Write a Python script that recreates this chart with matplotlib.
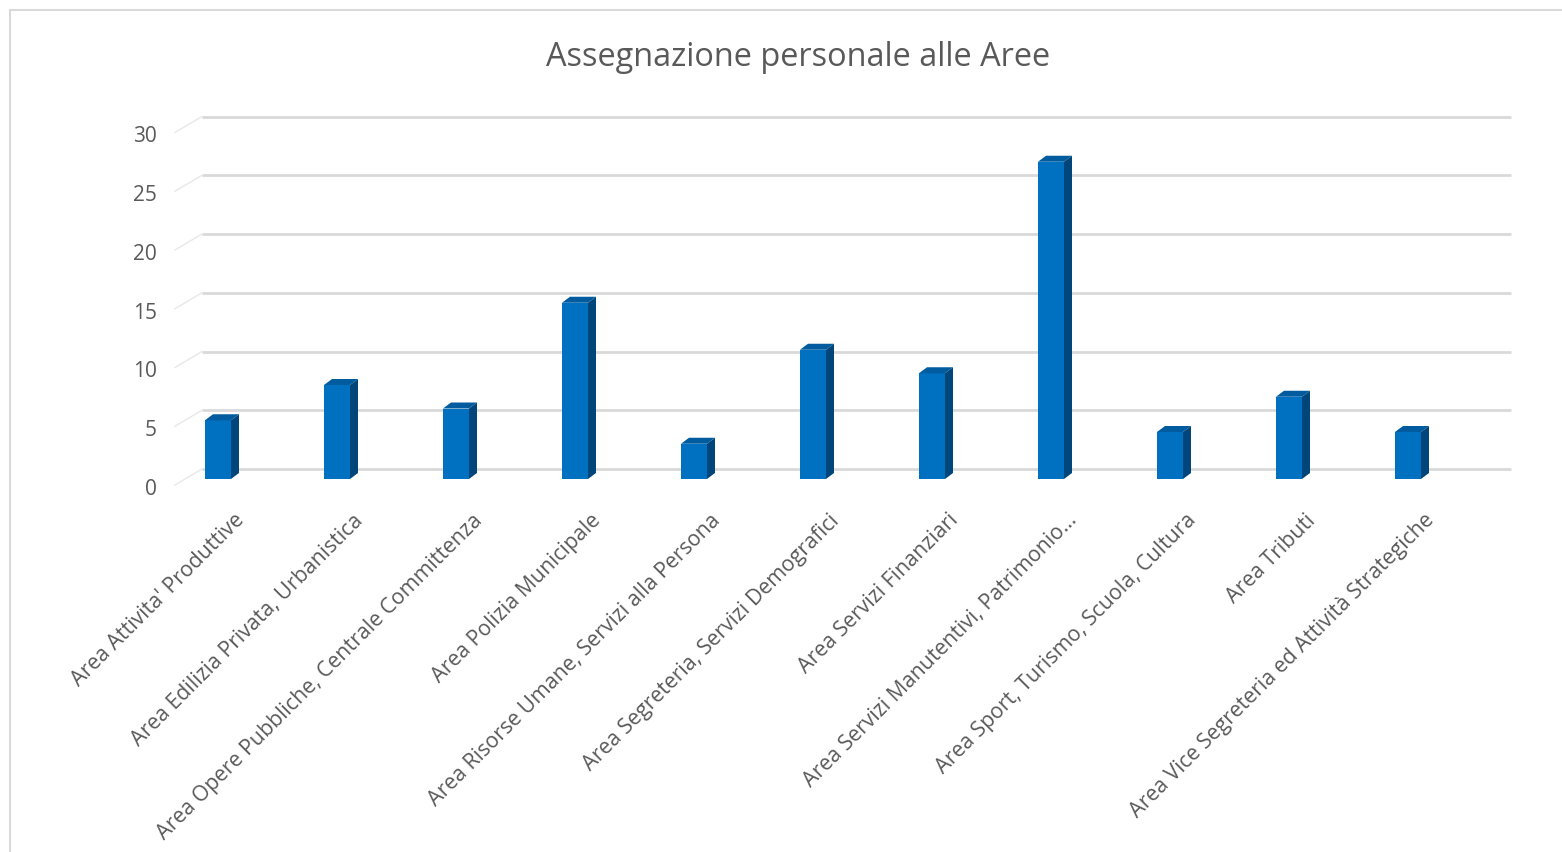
import numpy as np
import matplotlib
matplotlib.use("Agg")
import matplotlib.pyplot as plt
from matplotlib.patches import Polygon, Rectangle
from matplotlib.transforms import ScaledTranslation

plt.rcParams['font.family'] = ['Open Sans', 'DejaVu Sans']

# data
aree = [
    "Area Attivita' Produttive",
    "Area Edilizia Privata, Urbanistica",
    "Area Opere Pubbliche, Centrale Committenza",
    "Area Polizia Municipale",
    "Area Risorse Umane, Servizi alla Persona",
    "Area Segreteria, Servizi Demografici",
    "Area Servizi Finanziari",
    "Area Servizi Manutentivi, Patrimonio...",
    "Area Sport, Turismo, Scuola, Cultura",
    "Area Tributi",
    "Area Vice Segreteria ed Attività Strategiche",
]
personale = [5, 8, 6, 15, 3, 11, 9, 27, 4, 7, 4]
yticks = [0, 5, 10, 15, 20, 25, 30]

W, H = 1562, 853
fig = plt.figure(figsize=(W / 100, H / 100), dpi=100)

# chart border (cut off at right/bottom like the source)
fig.patches.append(Rectangle((10 / W, -0.2), 1.5, 1 - 11 / H + 0.2,
                             transform=fig.transFigure, fill=False,
                             edgecolor='#D9D9D9', lw=1.5))

fig.text(798 / W, 1 - 57 / H, "Assegnazione personale alle Aree",
         ha='center', va='center', fontsize=23.4, color='#595959')

# axes: x -0.5..10.5 -> 158.5..1467.5 px, y 0 -> 480 px, 11.75 px per unit
ppu = 11.75
ytop = 31.5
ax = fig.add_axes([158.5 / W, (H - 480) / H, 1309 / W, ytop * ppu / H])
ax.set_xlim(-0.5, 10.5)
ax.set_ylim(0, ytop)
for s in ax.spines.values():
    s.set_visible(False)

# back wall gridlines (offset up/right for the 3d look)
gdx = 43.5 / 119
gdy = 10 / ppu
for v in yticks:
    ax.plot([-0.5 + gdx, 10.5 + gdx], [v + gdy, v + gdy], color='#D9D9D9',
            lw=2, clip_on=False, zorder=1, solid_capstyle='butt')
    ax.plot([-0.5 + gdx - 27 / 119, -0.5 + gdx], [v + gdy - 16 / ppu, v + gdy],
            color='#E8E8E8', lw=1, clip_on=False, zorder=1)

x = np.arange(len(aree))
bw = 26 / 119
ddx = 8 / 119
ddy = 6 / ppu
ax.bar(x, personale, width=bw, color='#0070C0', zorder=3)
for xi, v in zip(x, personale):
    l, r = xi - bw / 2, xi + bw / 2
    top = Polygon([(l, v), (r, v), (r + ddx, v + ddy), (l + ddx, v + ddy)],
                  closed=True, facecolor='#005C9E', edgecolor='none', zorder=3,
                  clip_on=False)
    side = Polygon([(r, 0), (r + ddx, ddy), (r + ddx, v + ddy), (r, v)],
                   closed=True, facecolor='#00467A', edgecolor='none', zorder=3,
                   clip_on=False)
    ax.add_patch(top)
    ax.add_patch(side)

ax.set_yticks(yticks)
ax.set_yticklabels([str(t) for t in yticks], fontsize=15, color='#595959')
ax.tick_params(axis='y', length=0, pad=1)
for lab in ax.get_yticklabels():
    lab.set_transform(lab.get_transform() + ScaledTranslation(0, -0.07, fig.dpi_scale_trans))

ax.set_xticks(x)
ax.set_xticklabels(aree, rotation=45, ha='right', va='center',
                   rotation_mode='anchor', fontsize=15.3, color='#595959')
ax.tick_params(axis='x', length=0, pad=27)
for lab in ax.get_xticklabels():
    lab.set_transform(lab.get_transform() + ScaledTranslation(0.23, 0, fig.dpi_scale_trans))

fig.savefig("out.png", dpi=100)
